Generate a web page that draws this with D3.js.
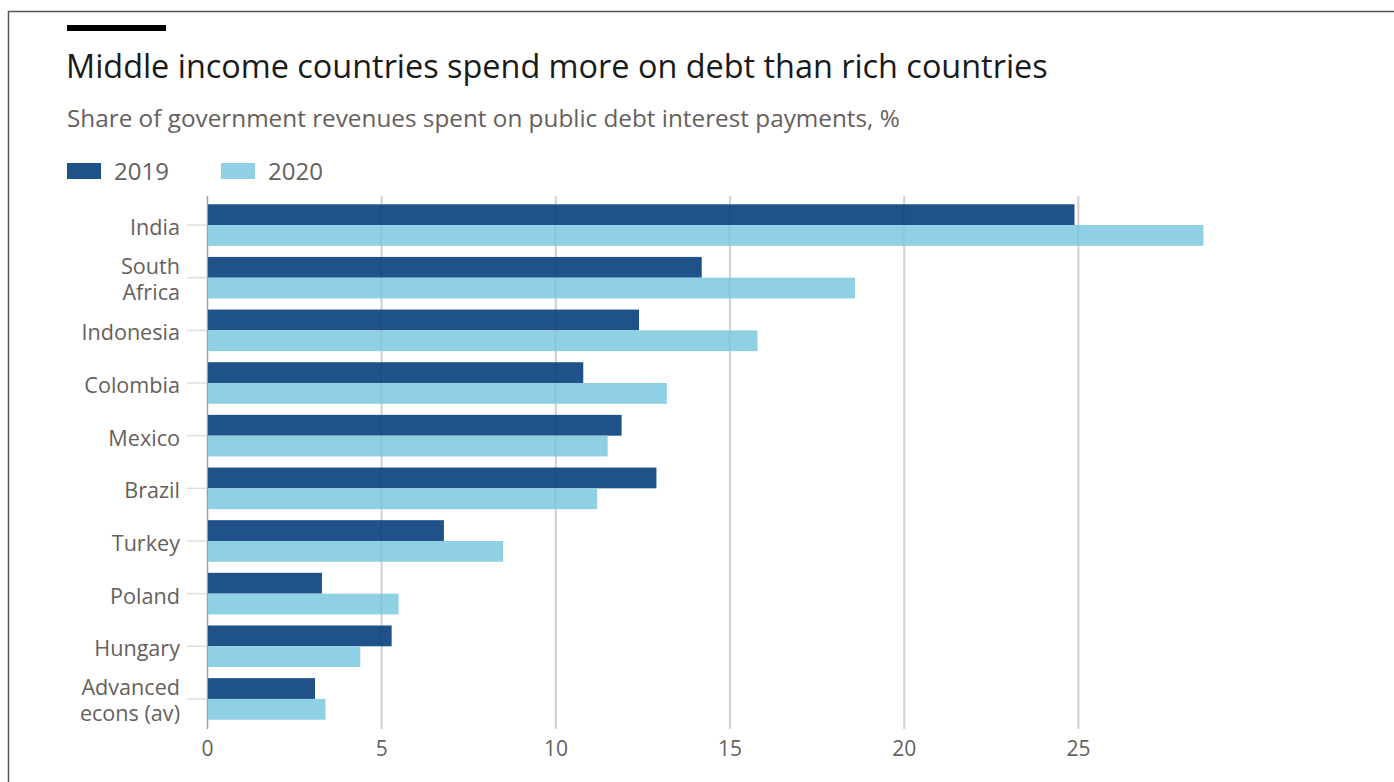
<!DOCTYPE html>
<html>
<head>
<meta charset="utf-8">
<script src="https://cdn.jsdelivr.net/npm/d3@7"></script>
<style>
  body { margin: 0; background: #fff; }
  svg { display: block; font-family: 'Open Sans', sans-serif; }
</style>
</head>
<body>
<svg class="svgChart"></svg>
<script>
// chart data
const countries = ['India', 'South Africa', 'Indonesia', 'Colombia', 'Mexico',
  'Brazil', 'Turkey', 'Poland', 'Hungary', 'Advanced econs (av)'];
const labelLines = [['India'], ['South', 'Africa'], ['Indonesia'], ['Colombia'], ['Mexico'],
  ['Brazil'], ['Turkey'], ['Poland'], ['Hungary'], ['Advanced', 'econs (av)']];
const years = ['2019', '2020'];
const values2019 = [24.9, 14.2, 12.4, 10.8, 11.9, 12.9, 6.8, 3.3, 5.3, 3.1];
const values2020 = [28.6, 18.6, 15.8, 13.2, 11.5, 11.2, 8.5, 5.5, 4.4, 3.4];
const xTicks = [0, 5, 10, 15, 20, 25];

const title = 'Middle income countries spend more on debt than rich countries';
const subtitle = 'Share of government revenues spent on public debt interest payments, %';

const colors = { '2019': '#1f5289', '2020': '#8fd0e4' };

const width = 1394;
const height = 782;

const svg = d3.select('.svgChart')
  .attr('width', width)
  .attr('height', height);

// frame (top + left rule)
svg.append('path')
  .attr('d', `M8.5,${height} V11.5 H${width}`)
  .attr('fill', 'none')
  .attr('stroke', '#555')
  .attr('stroke-width', 1.5);

// black header bar
svg.append('rect')
  .attr('x', 67).attr('y', 25)
  .attr('width', 99).attr('height', 6)
  .attr('fill', '#000');

svg.append('text')
  .attr('x', 66).attr('y', 78)
  .attr('font-size', 32.4)
  .attr('fill', '#1a1a1a')
  .text(title);

svg.append('text')
  .attr('x', 67).attr('y', 127)
  .attr('font-size', 24.3)
  .attr('fill', '#66605c')
  .text(subtitle);

// legend
const legendX = [67, 221];
const legend = svg.append('g')
  .selectAll('g')
  .data(years)
  .enter()
  .append('g')
    .attr('transform', (d, i) => `translate(${legendX[i]}, 163)`);

legend.append('rect')
  .attr('width', 34)
  .attr('height', 16)
  .attr('fill', d => colors[d]);

legend.append('text')
  .attr('x', 47)
  .attr('y', 17)
  .attr('font-size', 24)
  .attr('fill', '#66605c')
  .text(d => d);

// scales
const xScale = d3.scaleLinear()
  .domain([0, 25])
  .range([207, 1078]);

const yScale = d3.scaleBand()
  .domain(countries)
  .range([199, 725])
  .paddingInner(0.21)
  .paddingOuter(0.1);

const subScale = d3.scaleBand()
  .domain(years)
  .range([0, yScale.bandwidth()]);

const rows = countries.map((c, i) => ({
  country: c,
  lines: labelLines[i],
  '2019': values2019[i],
  '2020': values2020[i]
}));

// x axis + gridlines (under the bars)
const xAxis = d3.axisBottom(xScale)
  .tickValues(xTicks)
  .tickSize(-(729 - 196))
  .tickPadding(12);

const axisG = svg.append('g')
  .attr('class', 'xAxis')
  .attr('transform', 'translate(0, 729)')
  .call(xAxis);

axisG.select('.domain').remove();
axisG.selectAll('.tick line')
  .attr('stroke', d => d === 0 ? '#a0a0a0' : '#d9d9d9')
  .attr('stroke-width', d => d === 0 ? 1.5 : 2);
axisG.selectAll('.tick text')
  .attr('font-size', 21)
  .attr('font-family', "'Open Sans', sans-serif")
  .attr('fill', '#66605c')
  .attr('dy', '0.7em');

const g = svg.append('g');

// category ticks on the left
g.selectAll('.yTick')
  .data(countries)
  .enter()
  .append('line')
    .attr('class', 'yTick')
    .attr('x1', 187)
    .attr('x2', xScale(0))
    .attr('y1', d => yScale(d) + yScale.bandwidth() / 2)
    .attr('y2', d => yScale(d) + yScale.bandwidth() / 2)
    .attr('stroke', '#ddd')
    .attr('stroke-width', 1.5);

// bars
g.selectAll('.group')
  .data(rows)
  .enter()
  .append('g')
    .attr('class', 'group')
    .attr('transform', d => `translate(0, ${yScale(d.country)})`)
  .selectAll('rect')
  .data(d => years.map(y => ({ year: y, value: d[y] })))
  .enter()
  .append('rect')
    .attr('x', xScale(0) + 1)
    .attr('y', d => subScale(d.year))
    .attr('width', d => xScale(d.value) - xScale(0) - 1)
    .attr('height', subScale.bandwidth())
    .attr('fill', d => colors[d.year]);

// faint gridlines showing through the bars
g.selectAll('.gridOver')
  .data(xTicks.filter(d => d > 0))
  .enter()
  .append('line')
    .attr('class', 'gridOver')
    .attr('x1', d => xScale(d))
    .attr('x2', d => xScale(d))
    .attr('y1', 196)
    .attr('y2', 729)
    .attr('stroke', '#000')
    .attr('stroke-opacity', 0.04)
    .attr('stroke-width', 2);

// category labels
const labels = svg.append('g')
  .selectAll('text')
  .data(rows)
  .enter()
  .append('text')
    .attr('text-anchor', 'end')
    .attr('font-size', 21.6)
    .attr('fill', '#66605c')
    .attr('transform', d => `translate(180, ${yScale(d.country) + yScale.bandwidth() / 2})`);

labels.selectAll('tspan')
  .data(d => d.lines.map((l, i) => ({ text: l, n: d.lines.length, i: i })))
  .enter()
  .append('tspan')
    .attr('x', 0)
    .attr('y', d => d.n === 1 ? 10 : (d.i === 0 ? -4 : 22))
    .text(d => d.text);
</script>
</body>
</html>
